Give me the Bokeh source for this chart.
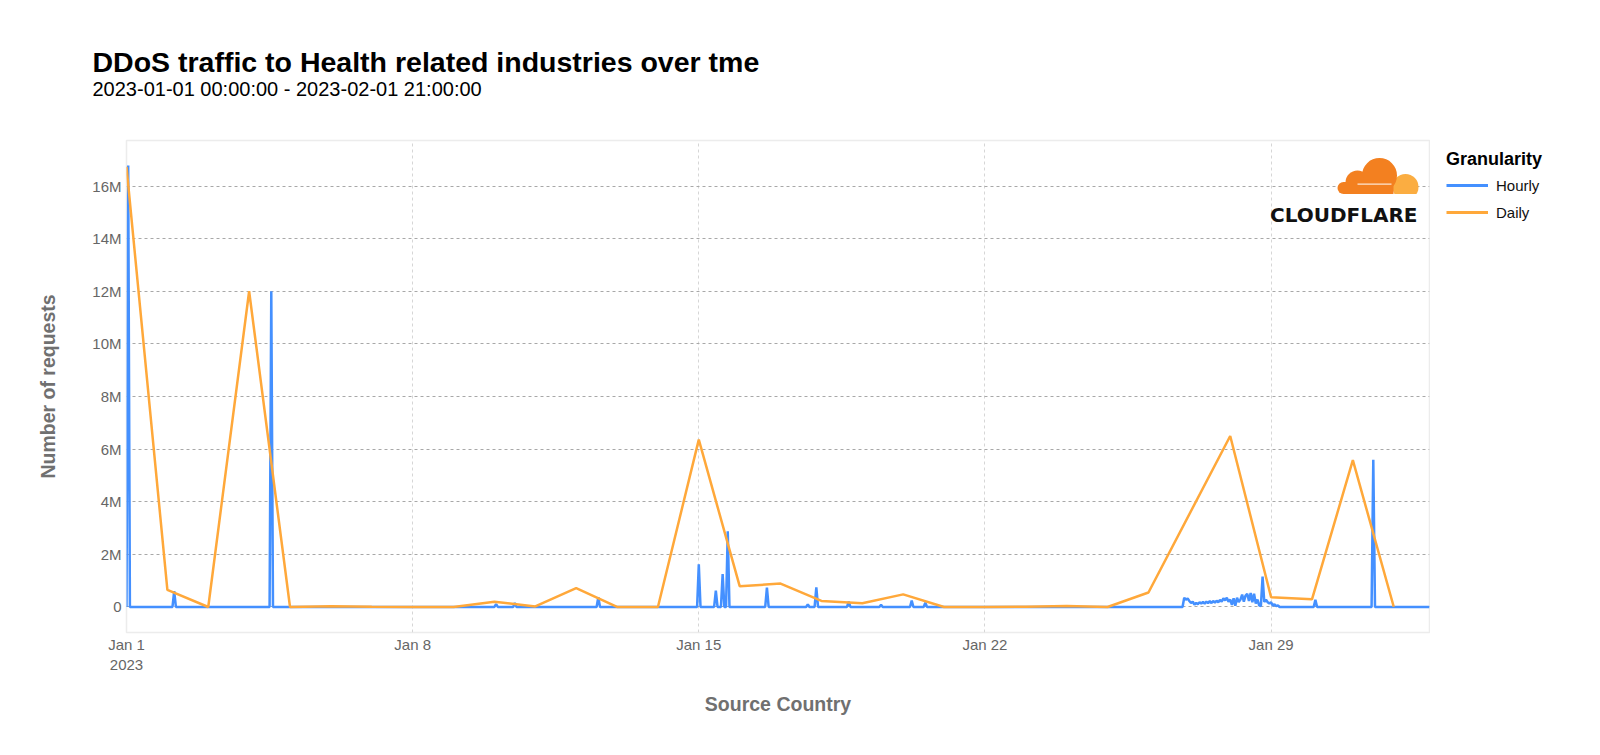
import numpy as np
import pandas as pd
from bokeh.plotting import figure
from bokeh.layouts import column, row
from bokeh.models import Range1d, FixedTicker, Label, Legend, LegendItem, ColumnDataSource
from bokeh.embed import file_html
from bokeh.resources import INLINE

# ---------------- data ----------------
period_start = "2023-01-01 00:00:00"
period_end = "2023-02-01 21:00:00"
chart_title = "DDoS traffic to Health related industries over tme"

daily_dates = [
    "2023-01-01", "2023-01-02", "2023-01-03", "2023-01-04", "2023-01-05", "2023-01-06",
    "2023-01-07", "2023-01-08", "2023-01-09", "2023-01-10", "2023-01-11", "2023-01-12",
    "2023-01-13", "2023-01-14", "2023-01-15", "2023-01-16", "2023-01-17", "2023-01-18",
    "2023-01-19", "2023-01-20", "2023-01-21", "2023-01-22", "2023-01-23", "2023-01-24",
    "2023-01-25", "2023-01-26", "2023-01-28", "2023-01-29", "2023-01-30", "2023-01-31",
    "2023-02-01",
]
daily_requests_m = [
    16.73, 0.65, 0.0, 12.0, 0.0, 0.03,
    0.01, 0.0, 0.0, 0.2, 0.02, 0.72,
    0.0, 0.0, 6.36, 0.79, 0.89, 0.23,
    0.14, 0.48, 0.0, 0.0, 0.01, 0.04,
    0.0, 0.55, 6.5, 0.37, 0.29, 5.58,
    0.01,
]

# hourly series: hours (since period start) with non-zero traffic, and their values
hourly_peak_hours = [1, 28, 85, 217, 228, 277, 336, 346, 350, 353, 376, 400, 405,
                     424, 443, 461, 469, 698, 732]
hourly_peak_requests_m = [16.78, 0.6, 12.0, 0.11, 0.15, 0.37, 1.62, 0.62, 1.25, 2.88,
                          0.74, 0.1, 0.75, 0.2, 0.08, 0.24, 0.16, 0.27, 5.6]
hourly_burst_first_hour = 621
hourly_burst_requests_m = [
    0.35, 0.28, 0.32, 0.23, 0.15, 0.2, 0.09, 0.15, 0.11, 0.18,
    0.13, 0.19, 0.13, 0.2, 0.15, 0.22, 0.15, 0.23, 0.16, 0.24,
    0.18, 0.27, 0.2, 0.33, 0.25, 0.35, 0.2, 0.28, 0.08, 0.33,
    0.05, 0.35, 0.19, 0.28, 0.47, 0.2, 0.43, 0.5, 0.23, 0.53,
    0.18, 0.5, 0.13, 0.28, 0.06, 0.03, 1.16, 0.19, 0.28, 0.18,
    0.13, 0.18, 0.05, 0.1, 0.03, 0.06,
]

series_names = ["Hourly", "Daily"]
y_ticks_m = [0, 2, 4, 6, 8, 10, 12, 14, 16]
y_tick_labels = ["0", "2M", "4M", "6M", "8M", "10M", "12M", "14M", "16M"]
x_tick_dates = ["2023-01-01", "2023-01-08", "2023-01-15", "2023-01-22", "2023-01-29"]
x_tick_labels = ["Jan 1\n2023", "Jan 8", "Jan 15", "Jan 22", "Jan 29"]

# ---------------- build series ----------------
def to_ms(ts):
    return pd.Timestamp(ts).value / 1e6

t0 = pd.Timestamp(period_start)
t1 = pd.Timestamp(period_end)
n_hours = int((t1 - t0) / pd.Timedelta(hours=1)) + 1
hourly_vals = np.zeros(n_hours)
for h, v in zip(hourly_peak_hours, hourly_peak_requests_m):
    hourly_vals[h] = v
for i, v in enumerate(hourly_burst_requests_m):
    hourly_vals[hourly_burst_first_hour + i] = v
hourly_x = [(t0 + pd.Timedelta(hours=h)).value / 1e6 for h in range(n_hours)]
daily_x = [to_ms(d) for d in daily_dates]

hourly_src = ColumnDataSource(dict(x=hourly_x, y=list(hourly_vals)))
daily_src = ColumnDataSource(dict(x=daily_x, y=daily_requests_m))

# ---------------- geometry ----------------
W, H = 1600, 755
TITLE_H = 112
FL, FT, FB = 126, 140, 123          # frame left / top / bottom (page pixels)
FRAME_R = 1429                      # frame right (page pixels)
MAIN_W = FRAME_R + 1
LEG_W = W - MAIN_W
MAIN_H = H - TITLE_H
FW, FH = FRAME_R - FL, H - FT - FB

FONT = "Liberation Sans"
BLUE = "#4490ff"
ORANGE = "#ffa83a"

# ---------------- title strip ----------------
tfig = figure(width=W, height=TITLE_H, output_backend="svg", toolbar_location=None,
              x_range=Range1d(0, W), y_range=Range1d(0, TITLE_H),
              x_axis_location=None, y_axis_location=None,
              min_border_left=0, min_border_right=0, min_border_top=0, min_border_bottom=0,
              title=None)
tfig.outline_line_color = None
tfig.grid.visible = False
tfig.add_layout(Label(x=92, y=TITLE_H - 61, text=chart_title, text_font=FONT,
                      text_font_style="bold", text_font_size="28.5px", text_color="#000000",
                      text_baseline="alphabetic"))
tfig.add_layout(Label(x=92, y=TITLE_H - 88, text=f"{period_start} - {period_end}",
                      text_font=FONT, text_font_size="20px", text_color="#000000",
                      text_baseline="alphabetic"))

# ---------------- main chart ----------------
X0, X1 = to_ms(period_start), to_ms(period_end)
Y0, Y1 = -0.97, 17.73

p = figure(width=MAIN_W, height=MAIN_H, output_backend="svg", toolbar_location=None,
           x_range=Range1d(X0, X1), y_range=Range1d(Y0, Y1),
           min_border_left=FL, min_border_right=MAIN_W - FRAME_R,
           min_border_top=FT - TITLE_H, min_border_bottom=FB, title=None)
p.background_fill_color = "white"
p.border_fill_color = "white"
p.outline_line_color = "#ececec"
p.outline_line_width = 1.5

p.yaxis.ticker = FixedTicker(ticks=y_ticks_m)
p.yaxis.major_label_overrides = {t: l for t, l in zip(y_ticks_m, y_tick_labels)}
xt = [to_ms(d) for d in x_tick_dates]
p.xaxis.ticker = FixedTicker(ticks=xt)
p.xaxis.major_label_overrides = {t: l for t, l in zip(xt, x_tick_labels)}
for ax in (p.xaxis, p.yaxis):
    ax.axis_line_color = None
    ax.major_tick_line_color = None
    ax.minor_tick_line_color = None
    ax.major_tick_out = 0
    ax.major_tick_in = 0
    ax.minor_tick_out = 0
    ax.minor_tick_in = 0
    ax.major_label_text_font = FONT
    ax.major_label_text_font_size = "15px"
    ax.major_label_text_color = "#666666"
    ax.axis_label_text_font = FONT
    ax.axis_label_text_font_size = "19.5px"
    ax.axis_label_text_font_style = "bold"
    ax.axis_label_text_color = "#707070"
p.yaxis.axis_label = "Number of requests"
p.xaxis.axis_label = "Source Country"
p.yaxis.major_label_standoff = 5
p.yaxis.axis_label_standoff = 30
p.xaxis.major_label_standoff = 3
p.xaxis.axis_label_standoff = 17

p.ygrid.grid_line_color = "#a8a8a8"
p.ygrid.grid_line_dash = "3 3"
p.ygrid.grid_line_width = 1
p.xgrid.grid_line_color = "#d6d6d6"
p.xgrid.grid_line_dash = "3 3"
p.xgrid.grid_line_width = 1

p.line("x", "y", source=hourly_src, line_color=BLUE, line_width=2.5)
p.line("x", "y", source=daily_src, line_color=ORANGE, line_width=2.5)

# logo (decoration)
def px2x(px):
    return X0 + (px - FL) / FW * (X1 - X0)

def py2y(py):
    return Y0 + (H - FB - py) / FH * (Y1 - Y0)

p.scatter([px2x(1405)], [py2y(186.5)], marker="circle", size=26,
          fill_color="#fbad41", line_color=None)
p.scatter([px2x(1379), px2x(1357), px2x(1343)], [py2y(175), py2y(182), py2y(187.5)],
          marker="circle", size=[35, 24, 12], fill_color="#f38020", line_color=None)
p.rect([px2x(1368)], [py2y(187.5)], width=50, height=12, width_units="screen",
       height_units="screen", fill_color="#f38020", line_color=None)
p.rect([px2x(1376)], [py2y(197)], width=90, height=7, width_units="screen",
       height_units="screen", fill_color="white", line_color=None)
p.segment([px2x(1357)], [py2y(183.6)], [px2x(1391)], [py2y(183.6)],
          line_color="white", line_width=1)
p.add_layout(Label(x=1417 - FL, y=H - FB - 214.5, x_units="screen", y_units="screen",
                   text="CLOUDFLARE", text_align="right", text_baseline="alphabetic",
                   text_font="DejaVu Sans", text_font_style="bold", text_font_size="20px",
                   text_color="#111111"))

# ---------------- legend strip ----------------
LEG_LEFT, LEG_TOP = 1446, 149
LEG_M = LEG_TOP - FT
lfig = figure(width=LEG_W, height=MAIN_H, output_backend="svg", toolbar_location=None,
              x_range=Range1d(0, 1), y_range=Range1d(0, 1),
              x_axis_location=None, y_axis_location=None,
              min_border_left=LEG_LEFT - MAIN_W - LEG_M, min_border_right=0,
              min_border_top=FT - TITLE_H, min_border_bottom=FB, title=None)
lfig.outline_line_color = None
lfig.grid.visible = False
off = dict(x=[-10, -9], y=[-10, -9])   # legend-only renderers, outside the visible range
lr_h = lfig.line("x", "y", source=ColumnDataSource(off), line_color=BLUE, line_width=3)
lr_d = lfig.line("x", "y", source=ColumnDataSource(off), line_color=ORANGE, line_width=3)
legend = Legend(items=[LegendItem(label=series_names[0], renderers=[lr_h]),
                       LegendItem(label=series_names[1], renderers=[lr_d])],
                location="top_left",
                title="Granularity", title_text_font=FONT, title_text_font_style="bold",
                title_text_font_size="18px", title_text_color="#000000",
                title_standoff=5,
                label_text_font=FONT, label_text_font_size="15px", label_text_color="#111111",
                border_line_color=None, background_fill_alpha=0, padding=0, margin=LEG_M,
                spacing=7, glyph_width=42, glyph_height=20, label_height=20,
                label_standoff=8)
lfig.add_layout(legend, "center")

layout = column(tfig, row(p, lfig, spacing=0), spacing=0)
open("out.html", "w").write(file_html(layout, INLINE))
